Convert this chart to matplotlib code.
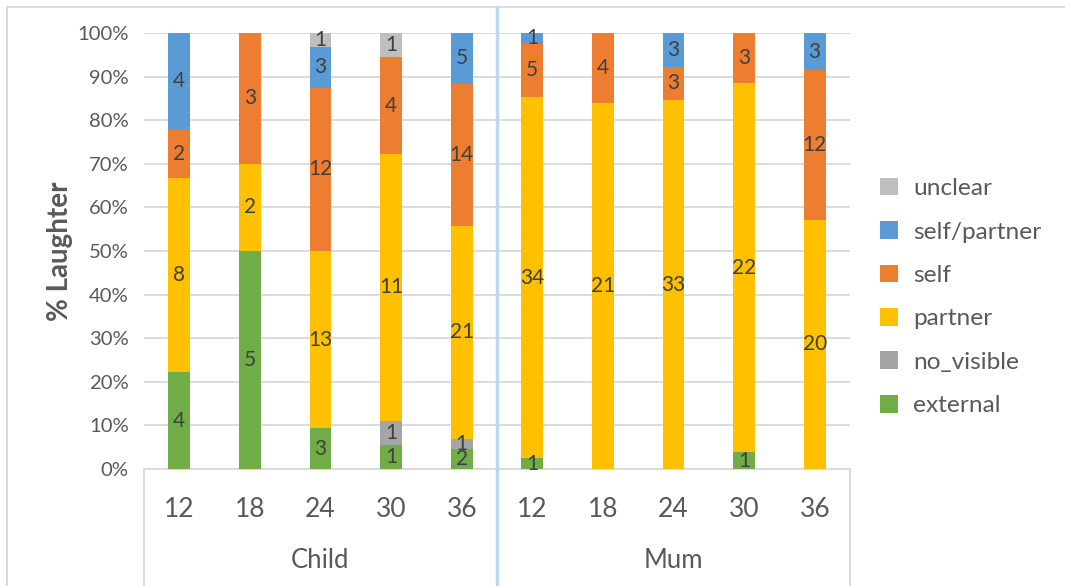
import numpy as np
import matplotlib.pyplot as plt
from matplotlib.lines import Line2D

plt.rcParams['font.family'] = ['Lato', 'DejaVu Sans']

# data: laughter counts per age (months), Child then Mum
groups = ["Child", "Mum"]
ages = ["12", "18", "24", "30", "36"]
series = ["external", "no_visible", "partner", "self", "self/partner", "unclear"]
external = [4, 5, 3, 1, 2, 1, 0, 0, 1, 0]
no_visible = [0, 0, 0, 1, 1, 0, 0, 0, 0, 0]
partner = [8, 2, 13, 11, 21, 34, 21, 33, 22, 20]
self_ = [2, 3, 12, 4, 14, 5, 4, 3, 3, 12]
self_partner = [4, 0, 3, 0, 5, 1, 0, 3, 0, 3]
unclear = [0, 0, 1, 1, 0, 0, 0, 0, 0, 0]

colors = ["#70AD47", "#A5A5A5", "#FFC000", "#ED7D31", "#5B9BD5", "#BFBFBF"]
text_col = "#595959"

counts = np.array([external, no_visible, partner, self_, self_partner, unclear], dtype=float)
totals = counts.sum(axis=0)
pct = counts / totals * 100

W, H = 1065, 586
fig = plt.figure(figsize=(W / 100, H / 100), dpi=100)
ax = fig.add_axes([144 / W, 1 - 469 / H, (850 - 144) / W, (469 - 33) / H])

x = np.arange(len(totals))
bottom = np.zeros(len(totals))
handles = []
for i, name in enumerate(series):
    bars = ax.bar(x, pct[i], 0.31, bottom=bottom, color=colors[i], label=name, zorder=3)
    handles.append(bars)
    for j in range(len(x)):
        if counts[i, j] > 0:
            ax.text(x[j], bottom[j] + pct[i, j] / 2, f"{int(counts[i, j])}",
                    ha="center", va="center", fontsize=15, color="#404040", zorder=4)
    bottom += pct[i]

ax.set_xlim(-0.5, len(x) - 0.5)
ax.set_ylim(0, 100)
ax.set_yticks(np.arange(0, 101, 10))
ax.set_yticklabels([f"{v}%" for v in range(0, 101, 10)], fontsize=14.6, color=text_col)
ax.yaxis.grid(True, color="#D9D9D9", linewidth=1.3, zorder=0)
ax.tick_params(axis="y", length=0, pad=11)
ax.set_xticks(x)
ax.set_xticklabels(ages * 2, fontsize=19, color=text_col)
ax.tick_params(axis="x", length=0, pad=20)
for s in ["top", "right", "left"]:
    ax.spines[s].set_visible(False)
ax.spines["bottom"].set_color("#D9D9D9")
ax.spines["bottom"].set_linewidth(1.3)

# group labels and separators under the axis
tr = ax.get_xaxis_transform()
for g, name in enumerate(groups):
    ax.text(g * 5 + 2, -0.209, name, transform=tr, ha="center", va="center",
            fontsize=18.5, color=text_col)
for xv in [-0.5, len(x) - 0.5]:
    ax.add_line(Line2D([xv, xv], [0, -0.27], transform=tr, color="#D9D9D9",
                       linewidth=1.3, clip_on=False))
ax.add_line(Line2D([4.5, 4.5], [-0.27, 1.06], transform=tr, color="#BDD7EE",
                   linewidth=2.5, clip_on=False, zorder=5))

ax.set_ylabel("% Laughter", fontsize=20, fontweight="bold", color=text_col, labelpad=3)

# outer chart border
fig.add_artist(Line2D([7 / W, 7 / W], [0, 1 - 7 / H], color="#D9D9D9", linewidth=1.3))
fig.add_artist(Line2D([7 / W, 1], [1 - 7 / H, 1 - 7 / H], color="#D9D9D9", linewidth=1.3))

fig.legend(handles[::-1], series[::-1], loc="center left",
           bbox_to_anchor=(858 / W, 1 - 297 / H), frameon=False, fontsize=17.6,
           labelcolor=text_col, handlelength=0.75, handleheight=0.75,
           handletextpad=0.6, labelspacing=0.9)

fig.savefig("out.png", dpi=100)
